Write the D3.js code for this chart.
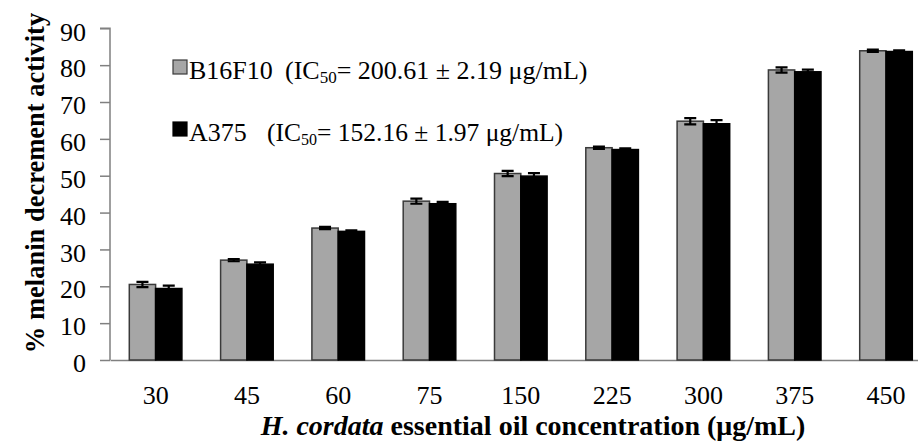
<!DOCTYPE html>
<html><head><meta charset="utf-8">
<script src="https://cdn.jsdelivr.net/npm/d3@7"></script>
<style>
body{margin:0;background:#fff;}
svg text{font-family:'Liberation Serif','DejaVu Serif','Noto Serif',serif !important;}
</style></head>
<body>
<svg id="c" width="918" height="441"></svg>
<script>
const categories = ["30","45","60","75","150","225","300","375","450"];
const seriesNames = ["B16F10","A375"];
const b16f10 = [20.5, 27.1, 35.8, 43.1, 50.6, 57.6, 64.8, 78.7, 83.9];
const b16f10Err = [0.7, 0.3, 0.3, 0.7, 0.7, 0.3, 0.85, 0.7, 0.3];
const a375 = [19.4, 26.0, 34.9, 42.4, 49.9, 57.1, 64.1, 78.2, 83.7];
const a375Err = [0.8, 0.5, 0.3, 0.5, 0.8, 0.3, 1.0, 0.6, 0.3];
const yTicks = [0,10,20,30,40,50,60,70,80,90];
const legendLabels = ["B16F10", "A375"];
const legendIC = [["200.61","2.19"],["152.16","1.97"]];

const svg = d3.select("#c");
const x0 = d3.scaleBand().domain(categories).range([110, 931.7]).padding(0);
const x1 = d3.scaleBand().domain(seriesNames).range([19.3, 71.9]).padding(0);
const y = d3.scaleLinear().domain([0,90]).range([360, 28.3]);
const fills = {"B16F10":"#a6a6a6","A375":"#000000"};
const strokes = {"B16F10":"#3a3a3a","A375":"#000000"};

const data = categories.map((c,i)=>({c, vals:[
  {s:"B16F10", v:b16f10[i], e:b16f10Err[i]},
  {s:"A375", v:a375[i], e:a375Err[i]}]}));

// axes
const yAxis = d3.axisLeft(y).tickValues(yTicks).tickSize(10).tickPadding(14);
const gy = svg.append("g").attr("transform","translate(110,0)").call(yAxis);
gy.attr("font-family",null);
gy.select(".domain").attr("stroke","#808080").attr("stroke-width",1.5).attr("d","M-10,28.3H0V360");
gy.selectAll(".tick line").attr("stroke","#808080").attr("stroke-width",1.5);
gy.selectAll(".tick text").attr("font-size",26).attr("fill","#000").attr("dy","0.45em");

const xAxis = d3.axisBottom(x0).tickSize(0).tickPadding(26);
const gx = svg.append("g").attr("transform","translate(0,360)").call(xAxis);
gx.attr("font-family",null);
gx.select(".domain").attr("stroke","#808080").attr("stroke-width",1.5);
gx.selectAll(".tick text").attr("font-size",26).attr("fill","#000");

// bars
const groups = svg.append("g").selectAll("g").data(data).join("g")
  .attr("transform", d=>`translate(${x0(d.c)},0)`);
groups.selectAll("rect").data(d=>d.vals).join("rect")
  .attr("x", d=>x1(d.s)).attr("width", x1.bandwidth())
  .attr("y", d=>y(d.v)).attr("height", d=>y(0)-y(d.v))
  .attr("fill", d=>fills[d.s]).attr("stroke", d=>strokes[d.s]).attr("stroke-width",1.5);
// error bars
const eb = groups.selectAll("g.err").data(d=>d.vals).join("g").attr("class","err");
eb.append("path")
  .attr("d", d=>{const cx=x1(d.s)+x1.bandwidth()/2, t=y(d.v+d.e), b=y(d.v-d.e);
    return `M${cx-6},${t}H${cx+6}M${cx},${t}V${b}M${cx-6},${b}H${cx+6}`;})
  .attr("stroke","#000").attr("stroke-width",2.2).attr("fill","none");

// legend
const leg = svg.append("g");
const legY = [60, 122];
legendLabels.forEach((lab,i)=>{
  leg.append("rect").attr("x",173).attr("y",legY[i]).attr("width",14).attr("height",14)
    .attr("fill",fills[seriesNames[i]]).attr("stroke",strokes[seriesNames[i]]).attr("stroke-width",1.2);
  const t = leg.append("text").attr("x",189).attr("y",legY[i]+19).attr("font-size",26).attr("fill","#000");
  t.append("tspan").text(lab);
  const t2 = leg.append("text").attr("x", i===0?285:267).attr("y",legY[i]+19).attr("font-size",i===0?26:25.5).attr("fill","#000");
  t2.append("tspan").text("(IC");
  t2.append("tspan").attr("font-size",i===0?17:16).attr("dy",4).text("50");
  t2.append("tspan").attr("dy",-4).text("= " + legendIC[i][0] + " \u00b1 " + legendIC[i][1] + " \u03bcg/mL)");
});

// axis titles
const xt = svg.append("text").attr("x",533).attr("y",435).attr("text-anchor","middle")
  .attr("font-size",28).attr("font-weight","bold").attr("fill","#000");
xt.append("tspan").attr("font-style","italic").text("H. cordata");
xt.append("tspan").text(" essential oil concentration (\u03bcg/mL)");

svg.append("text").attr("transform","translate(44,183) rotate(-90)").attr("text-anchor","middle")
  .attr("font-size",26.5).attr("font-weight","bold").attr("fill","#000")
  .text("% melanin decrement activity");
</script>
</body></html>
